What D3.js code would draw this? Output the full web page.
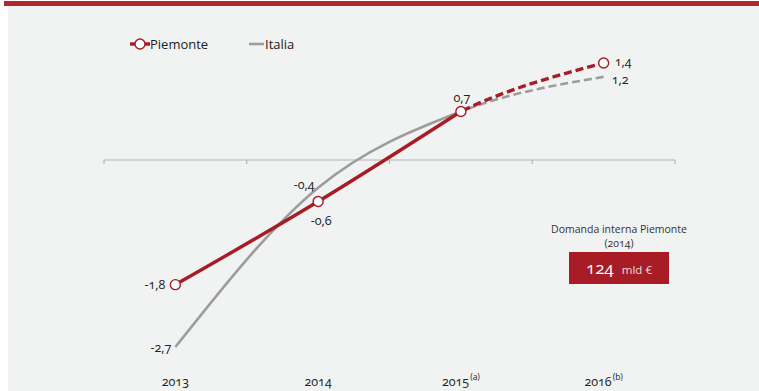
<!DOCTYPE html>
<html>
<head>
<meta charset="utf-8">
<script src="https://cdn.jsdelivr.net/npm/d3@7"></script>
<style>
  html, body { margin: 0; padding: 0; background: #ffffff; }
  svg { display: block; font-family: "Open Sans", "Noto Sans", sans-serif; }
  text { font-variant-numeric: oldstyle-nums; }
</style>
</head>
<body>
<svg id="chart" width="759" height="391"></svg>
<script>
// Domestic demand growth (%), Piemonte vs Italia
const years = ["2013", "2014", "2015", "2016"];
const yearNotes = ["", "", "(a)", "(b)"];
const piemonte = [-1.8, -0.6, 0.7, 1.4];
const italia = [-2.7, -0.4, 0.7, 1.2];
const piemonteLabels = ["-1,8", "-0,6", "0,7", "1,4"];
const italiaLabels = ["-2,7", "-0,4", "", "1,2"];
const seriesNames = ["Piemonte", "Italia"];
const boxTitle = ["Domanda interna Piemonte", "(2014)"];
const boxValue = "124";
const boxUnit = "mld €";

const RED = "#a71c25";
const GREY = "#9d9d9d";
const INK = "#222222";

const svg = d3.select("#chart");
const W = 759, H = 391;

// background panel and top rule
svg.append("rect").attr("x", 8).attr("y", 6).attr("width", W - 8).attr("height", H - 6).attr("fill", "#f1f2f2");
svg.append("rect").attr("x", 4).attr("y", 1).attr("width", W - 4).attr("height", 5).attr("fill", "#b0272f");

const x = d3.scaleBand().domain(years).range([104, 675]).padding(0);
const cx = d => x(d) + x.bandwidth() / 2;
const y = d3.scaleLinear().domain([-2.7, 1.4]).range([347, 63]);

// zero line with ticks at category boundaries
const axisG = svg.append("g");
axisG.append("line")
  .attr("x1", x.range()[0]).attr("x2", x.range()[1])
  .attr("y1", y(0)).attr("y2", y(0))
  .attr("stroke", "#b4b4b4").attr("stroke-width", 1.2);
const edges = years.map(d => x(d)).concat([x.range()[1]]);
axisG.selectAll("line.tick").data(edges).join("line")
  .attr("class", "tick")
  .attr("x1", d => d).attr("x2", d => d)
  .attr("y1", y(0)).attr("y2", y(0) + 4)
  .attr("stroke", "#b4b4b4").attr("stroke-width", 1.2);

// year labels along the bottom
const yl = svg.append("g").selectAll("text").data(years).join("text")
  .attr("x", d => cx(d))
  .attr("y", 386)
  .attr("text-anchor", "middle")
  .attr("font-size", 12.5)
  .attr("font-weight", 500)
  .attr("fill", INK);
yl.append("tspan").text(d => d);
yl.append("tspan")
  .attr("font-size", 8.5)
  .attr("font-weight", 400)
  .attr("dy", -6)
  .attr("dx", 1)
  .text((d, i) => yearNotes[i]);

// lines: solid through 2015, dashed for the forecast
const splitX = cx(years[2]);
const defs = svg.append("defs");
defs.append("clipPath").attr("id", "clipDash")
  .append("rect").attr("x", splitX).attr("y", 0).attr("width", W - splitX).attr("height", H);

const line = d3.line()
  .x(d => cx(d.year))
  .y(d => y(d.value))
  .curve(d3.curveMonotoneX);

function drawSeries(vals, color, width) {
  const pts = vals.map((v, i) => ({ year: years[i], value: v }));
  const g = svg.append("g");
  g.append("path").attr("d", line(pts.slice(0, 3)))
    .attr("fill", "none").attr("stroke", color).attr("stroke-width", width);
  g.append("path").attr("d", line(pts))
    .attr("fill", "none").attr("stroke", color).attr("stroke-width", width)
    .attr("stroke-dasharray", "8,4")
    .attr("clip-path", "url(#clipDash)");
}
drawSeries(italia, GREY, 2.6);
drawSeries(piemonte, RED, 3.4);

// markers for Piemonte
svg.append("g").selectAll("circle").data(piemonte).join("circle")
  .attr("cx", (d, i) => cx(years[i]))
  .attr("cy", d => y(d))
  .attr("r", 5)
  .attr("fill", "#ffffff")
  .attr("stroke", RED)
  .attr("stroke-width", 1.4);

// value labels
const pOff = [
  { dx: -10, dy: 0, anchor: "end" },
  { dx: 3, dy: 19, anchor: "middle" },
  { dx: 1, dy: -14, anchor: "middle" },
  { dx: 11, dy: -1, anchor: "start" }
];
const iOff = [
  { dx: -4, dy: 1, anchor: "end" },
  { dx: -14, dy: -3, anchor: "middle" },
  { dx: 0, dy: 0, anchor: "middle" },
  { dx: 8, dy: 3, anchor: "start" }
];
function labels(vals, texts, off) {
  svg.append("g").selectAll("text").data(vals).join("text")
    .attr("x", (d, i) => cx(years[i]) + off[i].dx)
    .attr("y", (d, i) => y(d) + off[i].dy)
    .attr("dy", "0.35em")
    .attr("text-anchor", (d, i) => off[i].anchor)
    .attr("font-size", 12.5)
    .attr("fill", INK)
    .text((d, i) => texts[i]);
}
labels(piemonte, piemonteLabels, pOff);
labels(italia, italiaLabels, iOff);

// legend
const lg = svg.append("g");
lg.append("line").attr("x1", 130).attr("x2", 150).attr("y1", 44).attr("y2", 44)
  .attr("stroke", RED).attr("stroke-width", 3.4);
lg.append("circle").attr("cx", 140).attr("cy", 44).attr("r", 5)
  .attr("fill", "#fff").attr("stroke", RED).attr("stroke-width", 1.4);
lg.append("text").attr("x", 150).attr("y", 44).attr("dy", "0.35em")
  .attr("font-size", 13).attr("fill", INK).text(seriesNames[0]);
lg.append("line").attr("x1", 249).attr("x2", 264).attr("y1", 44).attr("y2", 44)
  .attr("stroke", GREY).attr("stroke-width", 2.6);
lg.append("text").attr("x", 265).attr("y", 44).attr("dy", "0.35em")
  .attr("font-size", 13).attr("fill", INK).text(seriesNames[1]);

// info box
const bx = 619;
const box = svg.append("g");
box.selectAll("text.title").data(boxTitle).join("text")
  .attr("class", "title")
  .attr("x", bx).attr("y", (d, i) => 229 + i * 14.5)
  .attr("dy", "0.35em")
  .attr("text-anchor", "middle")
  .attr("font-size", 10.5)
  .attr("fill", "#333")
  .text(d => d);
box.append("rect").attr("x", 569).attr("y", 252).attr("width", 100).attr("height", 32).attr("fill", RED);
const bt = box.append("text").attr("x", bx).attr("y", 274).attr("text-anchor", "middle").attr("fill", "#fff");
bt.append("tspan").attr("font-size", 17).text(boxValue);
bt.append("tspan").attr("font-size", 11.5).attr("dx", 8).attr("fill", "#f3dcdd").text(boxUnit);
</script>
</body>
</html>
